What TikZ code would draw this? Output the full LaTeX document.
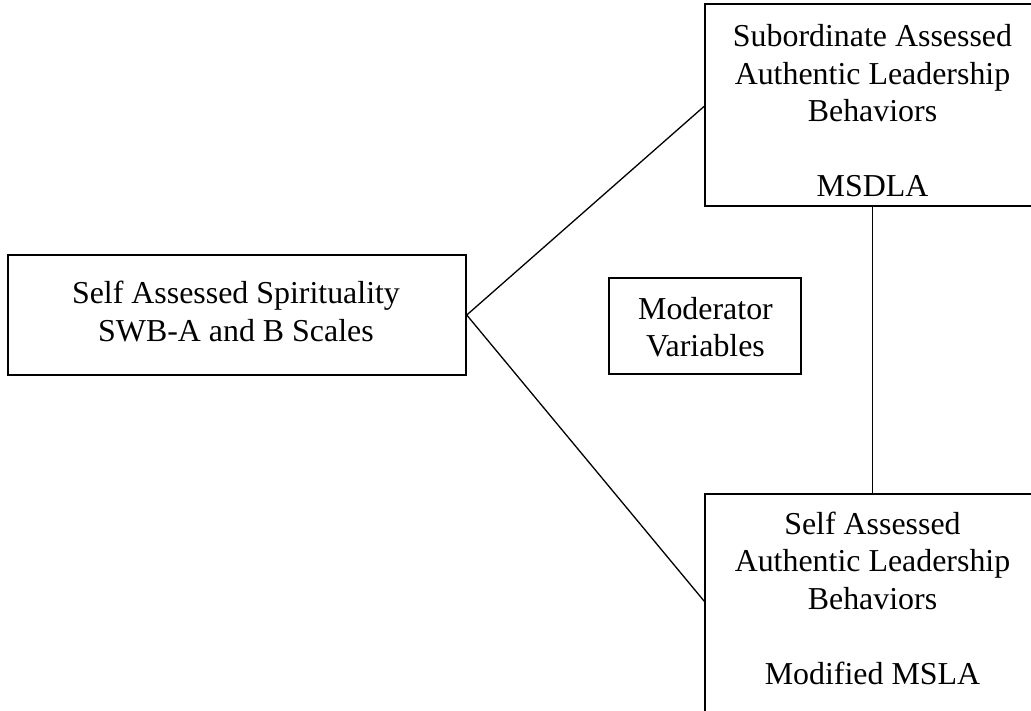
\documentclass[tikz,border=0pt]{standalone}
\usepackage{fontspec}
\setmainfont{Liberation Serif}
\begin{document}
\begin{tikzpicture}[x=1pt,y=-1pt,
  box/.style={draw=black,line width=1.5pt,rectangle,inner sep=0pt},
  txt/.style={font=\fontsize{31.9}{37.5}\selectfont,align=center,inner sep=0pt,anchor=north},
  link/.style={draw=black,line width=1.3pt}]
\useasboundingbox (0,0) rectangle (1031,710);
\clip (0,0) rectangle (1031,710);
\fill[white] (0,0) rectangle (1031,710);
% boxes
\node[box,minimum width=458pt,minimum height=120pt] (spir) at (237,315) {};
\node[box,minimum width=192pt,minimum height=96pt] (mod) at (705,326) {};
\node[box,minimum width=335pt,minimum height=202pt] (sub) at (872.5,105) {};
\node[box,minimum width=335pt,minimum height=236pt] (selfal) at (872.5,612) {};
% texts
\node[txt] (spirlbl) at (236,281) {Self Assessed Spirituality\\SWB-A and B Scales};
\node[txt] (modlbl) at (705.5,297) {Moderator\\Variables};
\node[txt] (sublbl) at (872.5,24.5) {Subordinate Assessed\\Authentic Leadership\\Behaviors\\[37.5pt]MSDLA};
\node[txt] (selfallbl) at (872.5,511.5) {Self Assessed\\Authentic Leadership\\Behaviors\\[37.5pt]Modified MSLA};
% connectors
\draw[link] (spir.east) -- ([yshift=-103pt]sub.north west);
\draw[link] (spir.east) -- ([yshift=-108pt]selfal.north west);
\draw[link] (sub.south) -- (selfal.north);
\end{tikzpicture}
\end{document}
